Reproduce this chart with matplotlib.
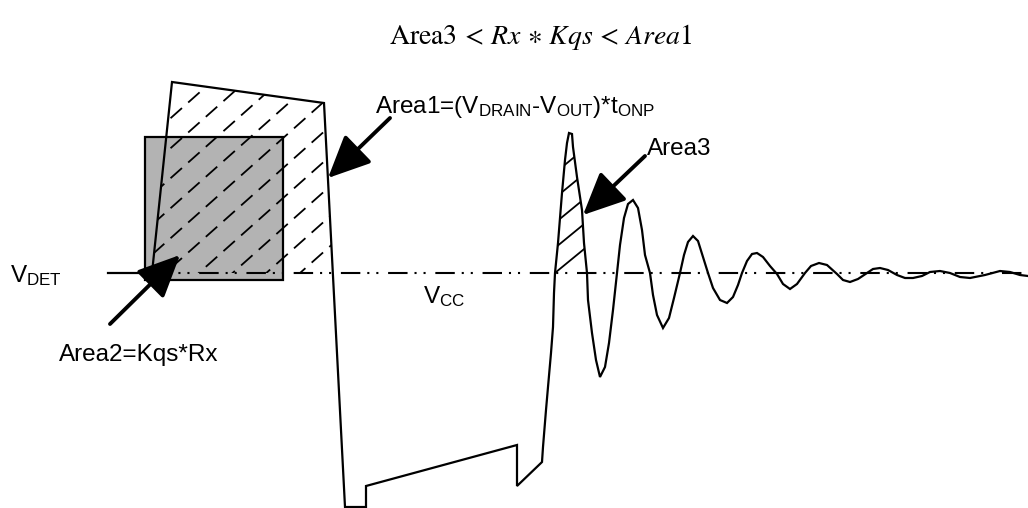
import matplotlib
matplotlib.use("Agg")
import matplotlib.pyplot as plt
from matplotlib.patches import Polygon, Rectangle, FancyArrowPatch

plt.rcParams['font.family'] = ['Liberation Sans', 'DejaVu Sans']
plt.rcParams['mathtext.fontset'] = 'custom'
plt.rcParams['mathtext.rm'] = 'Liberation Sans'
plt.rcParams['mathtext.it'] = 'Liberation Sans:italic'
plt.rcParams['lines.scale_dashes'] = False

## the picture is a sketch in pixel units (x to the right, y downwards)
v_det = 273

## drain waveform: flat, the on-time trapezoid, the drop and the valley
pulse_x = [108, 152, 172, 324, 345, 366, 366, 517, 517, 541]
pulse_y = [273, 273, 82, 103, 507, 507, 486, 445, 486, 463]

## rising edge up to the first crossing of V_DET
rise_x = [542, 543, 546, 548, 551, 553, 554, 555]
rise_y = [462, 447, 410, 387, 353, 327, 293, 273]

## first peak (Area3)
peak_x = [555, 558, 562, 565, 567, 569, 572, 573, 577, 582, 584, 587]
peak_y = [273, 243, 193, 160, 143, 133, 134, 147, 177, 210, 243, 273]

## the ringing that follows
ring_x = [588, 592, 596, 600, 605, 609, 613, 617,
          620, 624, 628, 633, 638, 642, 645, 650,
          653, 657, 663, 669, 674, 680,
          684, 688, 693, 698, 703, 708,
          713, 720, 727, 733, 738, 742,
          747, 752, 757, 763, 770, 777,
          783, 790, 797, 805,
          811, 819, 827, 837,
          843, 850, 858, 867,
          873, 880, 888, 897,
          905, 913, 922, 930,
          940, 950, 960, 970, 985, 1000, 1010, 1020, 1028]
ring_y = [300, 333, 360, 377, 367, 343, 310, 273,
          245, 218, 204, 200, 208, 230, 255, 273,
          295, 315, 328, 318, 298, 273,
          255, 242, 236, 241, 257, 273,
          288, 300, 303, 297, 285, 273,
          261, 254, 253, 257, 266, 274,
          284, 289, 284, 273,
          266, 263, 265, 274,
          280, 282, 279, 273,
          269, 268, 270, 275,
          278, 278, 276, 272,
          271, 273, 277, 278, 275, 271, 272, 275, 276]

## Area1 (hatched part of the trapezoid above V_DET)
area1_x = [152, 172, 324, 333]
area1_y = [273, 82, 103, 273]
area1_hatch = [270, 300, 330, 360, 390, 420, 450, 480, 510, 540, 570]
area3_hatch = [628, 653, 678, 703, 728]

## Area2 box
box_x, box_y, box_w, box_h = 145, 137, 138, 143

fig = plt.figure(figsize=(10.28, 5.08), dpi=100)
ax = fig.add_axes([0, 0, 1, 1])
ax.set_xlim(0, 1028)
ax.set_ylim(508, 0)
ax.axis('off')

## grey box first so the lines sit on top of it
ax.add_patch(Rectangle((box_x, box_y), box_w, box_h, facecolor='#b3b3b3',
                       edgecolor='black', lw=1.6, zorder=1))

## V_DET reference line
ax.plot([152, 1028], [v_det, v_det], color='black', lw=1.5,
        ls=(0, (14, 5, 1.5, 5, 1.5, 7)), zorder=2)

## dashed hatching of Area1 clipped to the trapezoid
clip1 = Polygon(list(zip(area1_x, area1_y)), closed=True, facecolor='none',
                edgecolor='none')
ax.add_patch(clip1)
for c in area1_hatch:
    ln, = ax.plot([100, 400], [c - 0.89 * 100, c - 0.89 * 400], color='black',
                  lw=1.3, ls=(0, (11, 6)), zorder=3)
    ln.set_clip_path(clip1)

## solid hatching of Area3 clipped to the first peak
clip3 = Polygon(list(zip(peak_x, peak_y)), closed=True, facecolor='none',
                edgecolor='none')
ax.add_patch(clip3)
for c in area3_hatch:
    ln, = ax.plot([540, 600], [c - 0.82 * 540, c - 0.82 * 600], color='black',
                  lw=1.3, zorder=3)
    ln.set_clip_path(clip3)

wave_x = pulse_x + rise_x + peak_x[1:] + ring_x
wave_y = pulse_y + rise_y + peak_y[1:] + ring_y
ax.plot(wave_x, wave_y, color='black', lw=1.6, zorder=4,
        solid_joinstyle='miter')


def arrow(tail, tip):
    ax.add_patch(FancyArrowPatch(tail, tip,
                                 arrowstyle='-|>,head_length=1.3,head_width=0.6',
                                 mutation_scale=20, lw=2.8, color='black',
                                 shrinkA=0, shrinkB=0, zorder=5))


arrow((110, 324), (180, 255))
arrow((390, 118), (328, 178))
arrow((645, 156), (583, 215))

fs = 17.5
ax.text(375, 113, r'Area1=(V$_{\mathrm{DRAIN}}$-V$_{\mathrm{OUT}}$)*t$_{\mathrm{ONP}}$',
        fontsize=fs, va='baseline', ha='left')
ax.text(647, 155, 'Area3', fontsize=fs, va='baseline', ha='left')
ax.text(59, 361, 'Area2=Kqs*Rx', fontsize=fs, va='baseline', ha='left')
ax.text(10, 282, r'V$_{\mathrm{DET}}$', fontsize=fs, va='baseline', ha='left')
ax.text(423, 303, r'V$_{\mathrm{CC}}$', fontsize=fs, va='baseline', ha='left')

ax.text(541, 44, r'$\mathrm{Area3}\,<\,Rx\,\ast\,Kqs\,<\,Area1$', fontsize=20,
        math_fontfamily='stix', ha='center', va='baseline')

fig.savefig('out.png', dpi=100, facecolor='white')
